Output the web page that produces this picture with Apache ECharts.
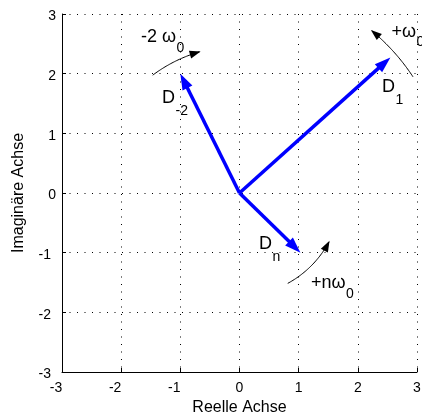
<!DOCTYPE html>
<html><head><meta charset="utf-8">
<script src="https://cdn.jsdelivr.net/npm/echarts@6/dist/echarts.min.js"></script>
<style>html,body{margin:0;padding:0;background:#fff}#c{width:422px;height:416px}</style>
</head><body><div id="c"></div>
<script>
// ---- data ----
const xTickValues = [-3, -2, -1, 0, 1, 2, 3];
const yTickValues = [-3, -2, -1, 0, 1, 2, 3];
const phasorNames = ['D_-2', 'D_1', 'D_n'];
const phasorRe = [-1.0, 2.55, 1.03];
const phasorIm = [2.0, 2.27, -1.0];
const arcRadius = [2.46, 3.52, 1.72];
const arcStartDeg = [126.6, 33.6, -61.7];
const arcEndDeg = [105.5, 50.9, -27.8];
const labelMain = ['-2 ω', 'D', '+ω', 'D', 'D', '+nω'];
const labelSub = ['0', '-2', '0', '1', 'n', '0'];
const labelRe = [-1.665, -1.31, 2.57, 2.408, 0.33, 1.208];
const labelIm = [2.505, 1.492, 2.598, 1.676, -0.955, -1.62];

// ---- styles ----
const FONT = '"Liberation Sans", Arial, Helvetica, sans-serif';
const BLUE = '#0000ff';
const measureCtx = document.createElement('canvas').getContext('2d');
function textWidth(t, fs) { measureCtx.font = fs + 'px ' + FONT; return measureCtx.measureText(t).width; }

const chart = echarts.init(document.getElementById('c'), null, {renderer: 'canvas'});

function phasorItem(params, api) {
  const p0 = api.coord([0, 0]);
  const p1 = api.coord([api.value(0), api.value(1)]);
  const dx = p1[0] - p0[0], dy = p1[1] - p0[1], L = Math.hypot(dx, dy);
  const ux = dx / L, uy = dy / L;
  const headLen = 16, headHalf = 5.5;
  const bx = p1[0] - ux * headLen, by = p1[1] - uy * headLen;
  return {type: 'group', children: [
    {type: 'line', shape: {x1: p0[0], y1: p0[1], x2: bx + ux * 2, y2: by + uy * 2},
     style: {stroke: BLUE, lineWidth: 3.5, lineCap: 'butt'}},
    {type: 'polygon', shape: {points: [[p1[0], p1[1]], [bx - uy * headHalf, by + ux * headHalf], [bx + uy * headHalf, by - ux * headHalf]]},
     style: {fill: BLUE}}
  ]};
}

function arcItem(params, api) {
  const r = api.value(0), a0 = api.value(1) * Math.PI / 180, a1 = api.value(2) * Math.PI / 180;
  const pts = [];
  const N = 40;
  for (let k = 0; k <= N; k++) {
    const a = a0 + (a1 - a0) * k / N;
    pts.push(api.coord([r * Math.cos(a), r * Math.sin(a)]));
  }
  const tip = pts[N], prev = pts[N - 1];
  let dx = tip[0] - prev[0], dy = tip[1] - prev[1];
  const L = Math.hypot(dx, dy); const ux = dx / L, uy = dy / L;
  const headLen = 11, headHalf = 4;
  const bx = tip[0] - ux * headLen, by = tip[1] - uy * headLen;
  const linePts = pts.slice(0, N);
  linePts.push([bx + ux * 2, by + uy * 2]);
  return {type: 'group', children: [
    {type: 'polyline', shape: {points: linePts}, style: {stroke: '#000', lineWidth: 1, fill: null}},
    {type: 'polygon', shape: {points: [[tip[0], tip[1]], [bx - uy * headHalf, by + ux * headHalf], [bx + uy * headHalf, by - ux * headHalf]]},
     style: {fill: '#000'}}
  ]};
}

function labelItem(params, api) {
  const i = params.dataIndex;
  const p = api.coord([api.value(0), api.value(1)]);
  const main = labelMain[i], sub = labelSub[i];
  const isD = main === 'D';
  const fsMain = 18, fsSub = 14;
  const subDy = isD ? 12 : 9.5;
  const w = textWidth(main, fsMain);
  return {type: 'group', children: [
    {type: 'text', x: p[0], y: p[1] - 0.3465 * fsMain,
     style: {text: main, fontSize: fsMain, fontFamily: FONT, fill: '#000', align: 'left', verticalAlign: 'middle'}},
    {type: 'text', x: p[0] + w + 0.5, y: p[1] + subDy - 0.3465 * fsSub,
     style: {text: sub, fontSize: fsSub, fontFamily: FONT, fill: '#000', align: 'left', verticalAlign: 'middle'}}
  ]};
}

const gridLine = {show: true, lineStyle: {color: '#000', width: 1, type: [1, 6.5]}};

chart.setOption({
  animation: false,
  backgroundColor: '#fff',
  grid: {left: 62, right: 5, top: 14, bottom: 44, containLabel: false, outerBoundsMode: 'none'},
  xAxis: {
    type: 'value', min: xTickValues[0], max: xTickValues[xTickValues.length - 1], interval: 1,
    name: 'Reelle Achse', nameLocation: 'middle', nameGap: 26,
    nameTextStyle: {color: '#000', fontSize: 16, fontFamily: FONT},
    axisLine: {show: true, onZero: false, lineStyle: {color: '#000', width: 1}},
    axisTick: {show: true, inside: true, length: 4, lineStyle: {color: '#000'}},
    axisLabel: {color: '#000', fontSize: 14, fontFamily: FONT, margin: 9,
      formatter: v => v < 0 ? '{n|' + v + '}' : '{p|' + v + '}',
      rich: {n: {fontSize: 14, fontFamily: FONT, color: '#000', padding: [0, 12, 0, 0]},
             p: {fontSize: 14, fontFamily: FONT, color: '#000'}}},
    splitLine: gridLine
  },
  yAxis: {
    type: 'value', min: yTickValues[0], max: yTickValues[yTickValues.length - 1], interval: 1,
    name: 'Imaginäre Achse', nameLocation: 'middle', nameGap: 35,
    nameTextStyle: {color: '#000', fontSize: 16, fontFamily: FONT},
    axisLine: {show: true, onZero: false, lineStyle: {color: '#000', width: 1}},
    axisTick: {show: true, inside: true, length: 4, lineStyle: {color: '#000'}},
    axisLabel: {color: '#000', fontSize: 14, fontFamily: FONT, margin: 6, padding: [5, 0, 0, 0],
      formatter: v => v < 0 ? '{n|' + v + '}' : '{p|' + v + '}',
      rich: {n: {fontSize: 14, fontFamily: FONT, color: '#000', padding: [0, 5, 0, 0]},
             p: {fontSize: 14, fontFamily: FONT, color: '#000'}}},
    splitLine: gridLine
  },
  series: [
    {type: 'custom', name: 'arcs', clip: false, z: 3, renderItem: arcItem,
     data: arcRadius.map((r, i) => [r, arcStartDeg[i], arcEndDeg[i]])},
    {type: 'custom', name: 'phasors', clip: false, z: 4, renderItem: phasorItem,
     data: phasorRe.map((x, i) => ({name: phasorNames[i], value: [x, phasorIm[i]]}))},
    {type: 'custom', name: 'labels', clip: false, z: 5, renderItem: labelItem,
     data: labelRe.map((x, i) => [x, labelIm[i]])}
  ]
});
</script>
</body></html>
